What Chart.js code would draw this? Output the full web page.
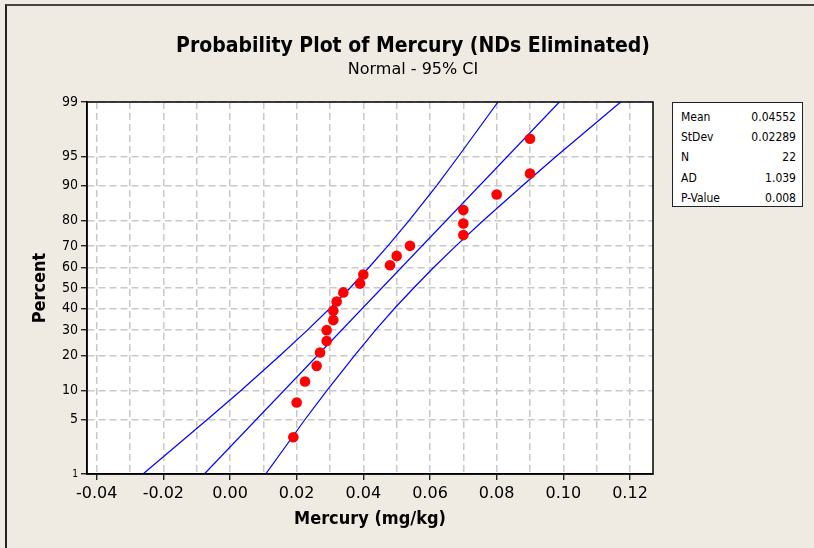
<!DOCTYPE html>
<html>
<head>
<meta charset="utf-8">
<script src="https://cdn.jsdelivr.net/npm/chart.js@4/dist/chart.umd.min.js"></script>
<style>
  body { margin: 0; background: #efebe2; }
  #wrap { position: relative; width: 814px; height: 548px; overflow: hidden; }
  #frame { position: absolute; left: 5px; top: 4px; width: 900px; height: 700px;
           border-left: 2px solid #222; border-top: 2px solid #444; }
  canvas { position: absolute; left: 0; top: 0; }
  #stats { position: absolute; left: 672px; top: 102px; width: 131px; height: 105px;
           background: #fff; border: 1px solid #222; box-sizing: border-box;
           font: 12px "DejaVu Sans Condensed", "DejaVu Sans", sans-serif; color: #000;
           padding: 4px 6px 0 8px; }
  #stats .row { display: flex; justify-content: space-between; height: 20.2px; line-height: 20px; }
</style>
</head>
<body>
<div id="wrap">
  <div id="frame"></div>
  <canvas id="plot" width="814" height="548"></canvas>
  <div id="stats"></div>
</div>
<script>
// observed values (x) and their plotted percents
const pointX = [0.019, 0.020, 0.0225, 0.026, 0.027, 0.029, 0.029, 0.031, 0.031, 0.032, 0.034,
                0.039, 0.040, 0.048, 0.050, 0.054, 0.070, 0.070, 0.070, 0.080, 0.090, 0.090];
const pointPct = [3.1, 7.6, 12.1, 16.5, 21.0, 25.4, 29.9, 34.4, 38.8, 43.3, 47.8,
                  52.2, 56.7, 61.2, 65.6, 70.1, 74.6, 79.0, 83.5, 87.9, 92.4, 96.9];

// fitted line
const fitPct = [1, 99];
const fitX = [-0.0077, 0.0988];

// 95% CI bands, read at the percent ticks
const ciPct = [1, 5, 10, 20, 30, 40, 50, 60, 70, 80, 90, 95, 99];
const ciLowX = [-0.0261, -0.0068, 0.0033, 0.0151, 0.0233, 0.0300, 0.0360, 0.0416, 0.0473, 0.0537, 0.0620, 0.0685, 0.0804];
const ciHighX = [0.0107, 0.0225, 0.0291, 0.0374, 0.0437, 0.0494, 0.0551, 0.0610, 0.0677, 0.0759, 0.0878, 0.0978, 0.1172];

// axis ticks
const yTickPct = [1, 5, 10, 20, 30, 40, 50, 60, 70, 80, 90, 95, 99];
const xTickHundredths = [-4, -3, -2, -1, 0, 1, 2, 3, 4, 5, 6, 7, 8, 9, 10, 11, 12];

const statLabels = ['Mean', 'StDev', 'N', 'AD', 'P-Value'];
const statValues = ['0.04552', '0.02289', '22', '1.039', '0.008'];

// inverse normal cdf (Acklam), used for the probability axis
function probit(p) {
    const a = [-39.69683028665376, 220.9460984245205, -275.9285104469687, 138.3577518672690, -30.66479806614716, 2.506628277459239];
    const b = [-54.47609879822406, 161.5858368580409, -155.6989798598866, 66.80131188771972, -13.28068155288572];
    const c = [-0.007784894002430293, -0.3223964580411365, -2.400758277161838, -2.549732539343734, 4.374664141464968, 2.938163982698783];
    const d = [0.007784695709041462, 0.3224671290700398, 2.445134137142996, 3.754408661907416];
    const pl = 0.02425;
    let q, r;
    if (p < pl) {
        q = Math.sqrt(-2 * Math.log(p));
        return (((((c[0]*q+c[1])*q+c[2])*q+c[3])*q+c[4])*q+c[5]) / ((((d[0]*q+d[1])*q+d[2])*q+d[3])*q+1);
    }
    if (p > 1 - pl) {
        q = Math.sqrt(-2 * Math.log(1 - p));
        return -(((((c[0]*q+c[1])*q+c[2])*q+c[3])*q+c[4])*q+c[5]) / ((((d[0]*q+d[1])*q+d[2])*q+d[3])*q+1);
    }
    q = p - 0.5;
    r = q * q;
    return (((((a[0]*r+a[1])*r+a[2])*r+a[3])*r+a[4])*r+a[5])*q / (((((b[0]*r+b[1])*r+b[2])*r+b[3])*r+b[4])*r+1);
}

const toPts = (xs, ps) => xs.map((x, i) => ({ x: x, y: probit(ps[i] / 100) }));

document.getElementById('stats').innerHTML = statLabels.map((l, i) =>
    `<div class="row"><span>${l}</span><span>${statValues[i]}</span></div>`).join('');

const COND = '"DejaVu Sans Condensed", "DejaVu Sans", sans-serif';
const WIDE = '"DejaVu Sans", sans-serif';

const plotArea = {
    id: 'plotArea',
    beforeDraw(chart) {
        const a = chart.chartArea, c = chart.ctx;
        c.save();
        c.fillStyle = '#fff';
        c.fillRect(a.left, a.top, a.right - a.left, a.bottom - a.top);
        c.restore();
    },
    afterDraw(chart) {
        const a = chart.ctx, r = chart.chartArea;
        a.save();
        a.strokeStyle = '#000';
        a.lineWidth = 1.5;
        a.strokeRect(r.left, r.top, r.right - r.left, r.bottom - r.top);
        a.restore();
    }
};

const lineStyle = { showLine: true, pointRadius: 0, borderColor: '#0000ff', borderWidth: 1.2, fill: false, yAxisID: 'y' };
const gridStyle = { color: '#c8c8c8', lineWidth: 1.5, tickLength: 6, tickBorderDash: [], tickWidth: 1.2 };

new Chart(document.getElementById('plot'), {
    type: 'scatter',
    data: {
        datasets: [
            { data: toPts(pointX, pointPct), pointRadius: 5.3, pointBackgroundColor: '#ff0000',
              pointBorderWidth: 0, borderColor: '#ff0000', yAxisID: 'y' },
            Object.assign({ data: toPts(fitX, fitPct) }, lineStyle),
            Object.assign({ data: toPts(ciLowX, ciPct) }, lineStyle),
            Object.assign({ data: toPts(ciHighX, ciPct) }, lineStyle)
        ]
    },
    options: {
        responsive: false,
        animation: false,
        events: [],
        layout: { padding: { left: 12, right: 0, top: 0, bottom: 0 } },
        plugins: {
            legend: { display: false },
            tooltip: { enabled: false },
            title: {
                display: true, text: 'Probability Plot of Mercury (NDs Eliminated)', color: '#000',
                font: { family: COND, size: 21, weight: 'bold' }, padding: { top: 34, bottom: 1 }
            },
            subtitle: {
                display: true, text: 'Normal - 95% CI', color: '#000',
                font: { family: WIDE, size: 16 }, padding: { top: 0, bottom: 22.6 }
            }
        },
        scales: {
            x: {
                type: 'linear', position: 'bottom',
                min: -0.0429, max: 0.1269,
                afterBuildTicks: s => { s.ticks = xTickHundredths.map(k => ({ value: k / 100 })); },
                afterFit: s => { s.height = 74; },
                ticks: {
                    autoSkip: false, maxRotation: 0, color: '#000', padding: 4,
                    font: { family: WIDE, size: 16 },
                    callback: (v, i) => xTickHundredths[i] % 2 === 0 ? (xTickHundredths[i] / 100).toFixed(2) : ''
                },
                grid: Object.assign({
                    tickColor: c => (xTickHundredths[c.index] % 2 === 0 ? '#000' : 'rgba(0,0,0,0)')
                }, gridStyle),
                border: { color: '#000', width: 1.5, dash: [7, 4] },
                title: {
                    display: true, text: 'Mercury (mg/kg)', color: '#000',
                    font: { family: COND, size: 18, weight: 'bold' }, padding: { top: 0, bottom: 18 }
                }
            },
            y: {
                type: 'linear', position: 'left',
                min: probit(0.01), max: probit(0.99),
                afterBuildTicks: s => { s.ticks = yTickPct.map(p => ({ value: probit(p / 100) })); },
                afterFit: s => { s.width = 75; },
                ticks: {
                    autoSkip: false, color: '#000', padding: 3,
                    font: c => ({ family: COND, size: c.index === 0 ? 10 : 14 }),
                    callback: (v, i) => String(yTickPct[i])
                },
                grid: Object.assign({ tickColor: '#000' }, gridStyle),
                border: { color: '#000', width: 1.5, dash: [7, 4] },
                title: {
                    display: true, text: 'Percent', color: '#000',
                    font: { family: COND, size: 18, weight: 'bold' }, padding: { top: 18, bottom: 0 }
                }
            },
            yRight: {
                type: 'linear', position: 'right',
                afterFit: s => { s.width = 161; },
                ticks: { display: false },
                grid: { display: false },
                border: { display: false }
            }
        }
    },
    plugins: [plotArea]
});
</script>
</body>
</html>
